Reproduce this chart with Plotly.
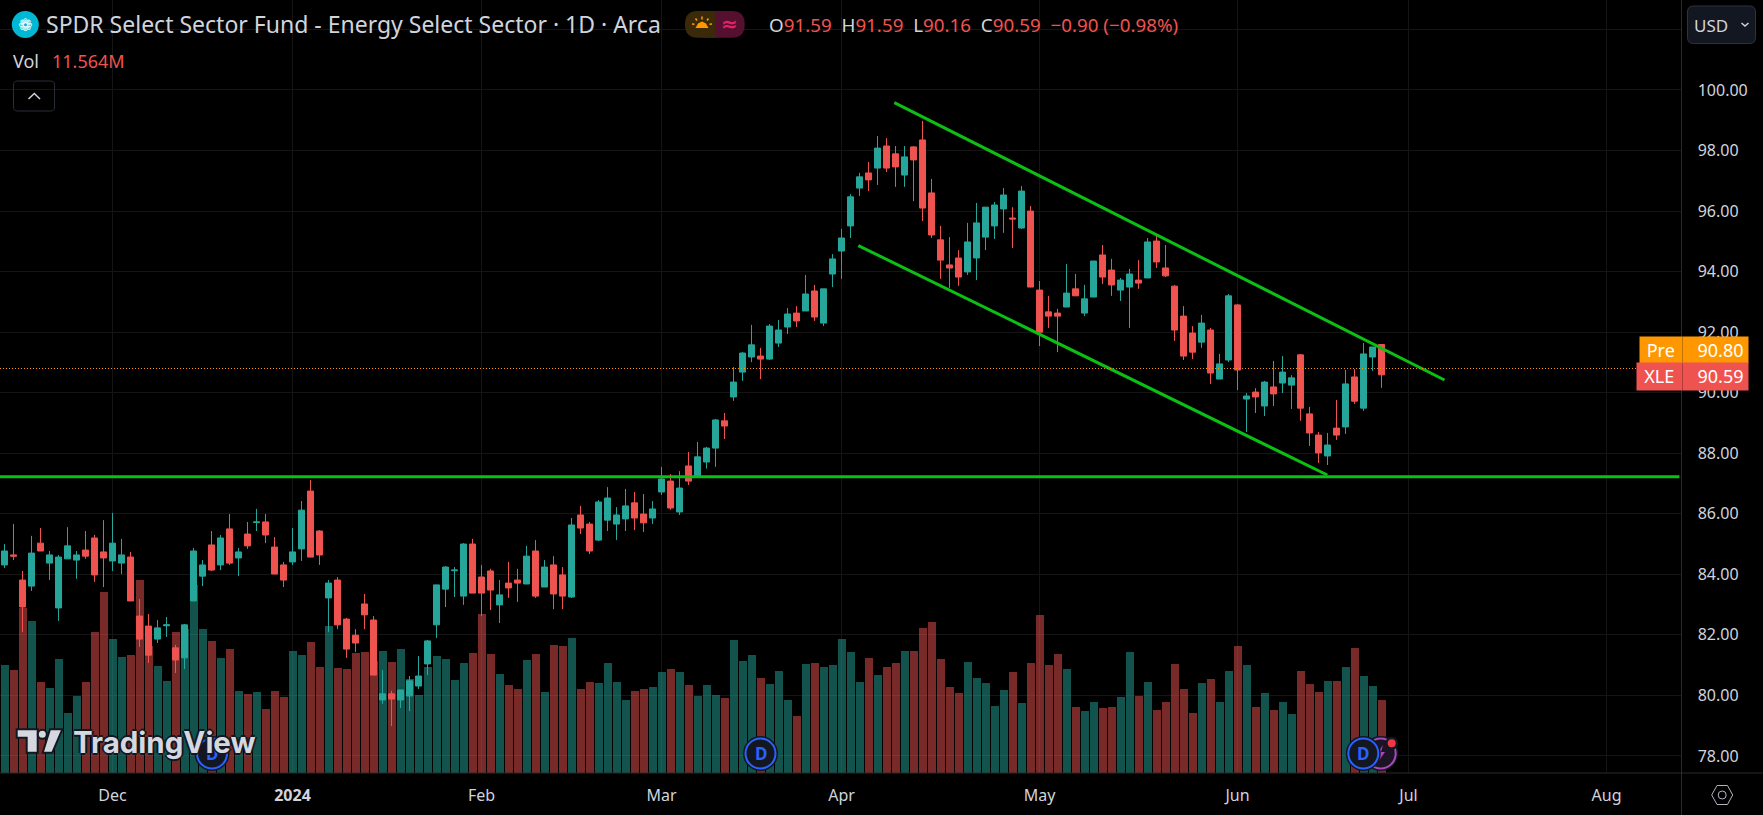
"""Daily XLE candlesticks with volume and hand-drawn trend channel, TradingView dark style."""

import plotly.graph_objects as go

W, H = 1763, 815
PLOT_RIGHT, PLOT_BOTTOM = 1681.5, 773

# ── data ────────────────────────────────────────────────────────────
opens = [
    84.31, 84.64, 83.81, 83.61, 85.03, 84.37, 82.89, 84.51, 84.47, 84.80,
    85.20, 84.74, 84.44, 84.37, 84.57, 82.62, 82.29, 81.86, 82.30, 81.57,
    81.24, 83.12, 83.94, 84.97, 84.31, 85.50, 84.54, 85.33, 85.71, 85.73,
    84.90, 84.31, 84.41, 84.84, 86.75, 85.43, 83.22, 83.81, 82.52, 81.99,
    83.02, 82.49, 79.85, 80.05, 79.85, 79.98, 80.31, 81.04, 82.33, 83.51,
    84.12, 83.28, 85.00, 83.91, 84.11, 82.99, 83.71, 83.81, 83.68, 84.77,
    83.58, 84.31, 83.98, 83.25, 85.96, 85.66, 85.13, 85.79, 85.66, 85.83,
    86.36, 85.99, 85.86, 86.72, 87.08, 86.06, 87.58, 87.22, 87.71, 88.17,
    89.07, 89.86, 90.68, 91.18, 91.21, 91.11, 91.64, 92.17, 92.63, 92.70,
    93.36, 92.30, 93.92, 94.68, 95.51, 96.76, 97.26, 97.42, 98.15, 97.89,
    97.19, 98.12, 98.35, 96.60, 95.05, 94.22, 94.45, 93.99, 94.45, 95.14,
    95.51, 96.07, 95.77, 95.44, 96.00, 93.39, 92.67, 92.63, 92.83, 93.43,
    92.63, 93.16, 94.55, 94.05, 93.39, 93.49, 93.72, 93.79, 95.01, 94.12,
    93.52, 92.53, 91.97, 91.67, 92.07, 90.45, 91.08, 92.90, 89.79, 90.02,
    89.56, 90.19, 90.32, 90.25, 91.25, 89.30, 88.60, 87.91, 88.83, 88.87,
    90.52, 89.49, 91.18, 91.59,
]
highs = [
    85.00, 85.66, 84.11, 85.27, 85.53, 84.77, 84.64, 85.56, 84.77, 85.43,
    85.30, 85.79, 86.03, 85.17, 84.74, 83.18, 82.69, 82.49, 82.59, 81.67,
    82.36, 84.87, 84.47, 85.43, 85.30, 85.99, 84.87, 85.73, 86.16, 85.99,
    85.23, 84.41, 85.53, 86.42, 87.12, 85.46, 83.81, 83.91, 82.56, 82.19,
    83.35, 82.62, 80.84, 80.15, 80.18, 80.64, 81.30, 81.83, 83.65, 84.27,
    84.24, 85.03, 85.17, 84.31, 84.18, 83.81, 84.41, 84.18, 84.94, 85.13,
    84.47, 84.60, 84.24, 85.86, 86.26, 85.73, 86.45, 86.88, 86.22, 86.82,
    86.72, 86.65, 86.42, 87.55, 87.31, 87.41, 88.04, 88.37, 88.21, 89.13,
    89.33, 90.85, 91.35, 92.24, 91.48, 92.27, 92.40, 92.80, 92.86, 93.89,
    93.56, 93.43, 94.58, 95.41, 96.56, 97.26, 97.62, 98.48, 98.41, 98.15,
    98.15, 98.15, 98.98, 97.06, 95.51, 95.14, 94.71, 95.61, 96.27, 96.13,
    96.30, 96.76, 96.13, 96.83, 96.17, 93.69, 93.20, 92.77, 94.25, 93.92,
    93.56, 94.35, 94.88, 94.42, 93.79, 94.09, 94.38, 95.11, 95.21, 94.88,
    93.56, 92.86, 92.20, 92.57, 92.14, 91.28, 93.26, 92.93, 89.99, 90.15,
    90.39, 91.05, 91.21, 90.58, 91.28, 89.53, 88.70, 88.67, 89.76, 90.75,
    90.78, 91.64, 91.51, 91.59,
]
lows = [
    84.21, 84.47, 82.09, 83.45, 84.77, 83.81, 82.46, 84.51, 83.85, 84.51,
    83.75, 83.58, 84.11, 84.01, 83.12, 81.60, 81.07, 81.73, 81.93, 80.74,
    80.87, 83.12, 83.61, 84.11, 84.14, 84.31, 83.94, 84.84, 85.43, 85.03,
    84.01, 83.58, 84.31, 84.44, 84.57, 84.31, 82.09, 82.19, 81.24, 81.43,
    82.19, 80.67, 79.72, 78.99, 79.58, 79.48, 80.21, 80.67, 81.90, 82.92,
    83.25, 82.99, 83.38, 82.62, 82.82, 82.39, 83.22, 83.09, 83.68, 83.22,
    83.58, 82.85, 82.85, 83.22, 85.33, 84.67, 85.10, 85.43, 85.13, 85.43,
    85.46, 85.40, 85.66, 86.62, 86.13, 85.96, 86.95, 87.22, 87.49, 87.55,
    88.47, 89.73, 90.39, 91.01, 90.45, 91.08, 91.51, 91.94, 92.17, 92.70,
    92.37, 92.20, 93.49, 93.76, 95.11, 96.50, 96.66, 96.86, 97.29, 96.80,
    96.80, 96.33, 95.67, 95.11, 93.76, 93.46, 93.53, 93.89, 93.72, 94.71,
    95.08, 95.28, 94.78, 95.41, 93.49, 91.54, 92.14, 91.34, 92.83, 93.20,
    92.53, 93.16, 93.59, 93.20, 93.03, 92.14, 93.43, 93.79, 94.12, 93.82,
    91.71, 91.08, 91.11, 91.48, 90.29, 90.45, 91.01, 90.09, 88.70, 89.33,
    89.23, 89.56, 89.99, 89.46, 89.07, 88.24, 87.68, 87.61, 88.44, 88.64,
    89.63, 89.40, 90.72, 90.16,
]
closes = [
    84.77, 84.60, 82.92, 84.70, 84.77, 84.64, 84.57, 84.94, 84.64, 84.60,
    83.98, 84.54, 85.03, 84.64, 83.12, 81.86, 81.33, 82.23, 82.33, 81.17,
    82.33, 84.77, 84.31, 84.14, 85.20, 84.37, 84.74, 84.94, 85.73, 85.30,
    84.01, 83.81, 84.74, 86.12, 84.57, 84.64, 83.71, 82.33, 81.53, 81.73,
    82.66, 80.67, 80.05, 79.88, 80.18, 80.48, 80.64, 81.80, 83.65, 84.24,
    84.14, 85.00, 83.38, 83.38, 83.48, 83.32, 83.55, 83.71, 84.60, 83.28,
    84.24, 83.35, 83.28, 85.63, 85.53, 84.77, 86.39, 86.52, 85.96, 86.26,
    85.86, 85.70, 86.16, 87.15, 86.19, 86.85, 87.08, 87.88, 88.17, 89.10,
    88.90, 90.35, 91.31, 91.58, 91.11, 92.20, 92.07, 92.60, 92.37, 93.26,
    92.50, 93.43, 94.42, 95.11, 96.47, 97.13, 97.03, 98.08, 97.42, 97.46,
    97.79, 97.69, 96.10, 95.21, 94.38, 94.12, 93.82, 94.98, 95.61, 96.13,
    96.20, 96.53, 95.74, 96.66, 93.49, 92.00, 92.53, 92.53, 93.29, 93.20,
    93.10, 94.35, 93.82, 93.56, 93.72, 93.92, 93.62, 94.98, 94.32, 93.86,
    92.07, 91.21, 91.34, 92.30, 90.65, 90.95, 93.20, 90.75, 89.89, 89.86,
    90.35, 89.96, 90.68, 90.49, 89.49, 88.67, 88.01, 88.27, 88.60, 90.29,
    89.72, 91.28, 91.51, 90.59,
]
volumes = [  # millions of shares
    17.17, 16.38, 26.20, 24.14, 14.47, 13.52, 18.12, 9.56, 12.26, 14.47,
    22.40, 28.74, 21.29, 18.44, 18.75, 30.64, 20.18, 17.01, 14.63, 22.40,
    22.87, 29.85, 22.87, 20.97, 18.28, 19.70, 13.05, 12.57, 12.89, 10.20,
    13.05, 12.10, 19.39, 18.75, 20.81, 16.85, 23.35, 16.69, 16.53, 19.07,
    19.23, 17.80, 19.39, 17.64, 19.70, 14.95, 12.41, 16.85, 18.59, 18.12,
    14.79, 17.49, 19.07, 25.25, 18.91, 15.74, 14.00, 13.37, 17.96, 18.91,
    12.89, 20.34, 20.18, 21.45, 13.37, 14.47, 14.32, 17.49, 14.47, 11.62,
    13.05, 13.37, 13.68, 16.06, 16.48, 16.01, 13.95, 12.20, 13.95, 12.36,
    11.89, 21.08, 17.75, 18.70, 15.06, 14.10, 16.16, 11.57, 9.03, 17.27,
    17.43, 16.80, 17.12, 21.24, 19.18, 14.42, 18.22, 15.53, 16.80, 17.43,
    19.33, 19.33, 22.98, 23.93, 18.07, 13.63, 12.68, 17.59, 15.06, 14.26,
    10.62, 13.15, 16.01, 11.09, 17.43, 25.04, 17.12, 18.86, 16.48, 10.46,
    9.83, 11.25, 10.30, 10.46, 12.04, 19.18, 12.20, 14.42, 9.98, 11.25,
    17.27, 13.31, 9.51, 14.26, 14.90, 11.25, 16.16, 20.13, 17.12, 10.46,
    12.68, 9.98, 11.25, 9.35, 16.16, 14.10, 12.84, 14.58, 14.58, 16.80,
    19.81, 15.37, 13.79, 11.564,
]

month_positions = [12, 32, 53, 73, 93, 115, 137, 156, 178]
month_labels = ["Dec", "<b>2024</b>", "Feb", "Mar", "Apr", "May", "Jun", "Jul", "Aug"]
price_ticks = [78, 80, 82, 84, 86, 88, 90, 92, 94, 96, 98, 100, 102]
price_labels = [f"{p:.2f}" for p in price_ticks[:-1]] + [""]

support_x, support_y = [-0.5, 186.1], [87.22, 87.22]
channel_top_x, channel_top_y = [98.87, 160.0], [99.58, 90.42]
channel_low_x, channel_low_y = [94.87, 146.98], [94.86, 87.28]
premarket_price = 90.80

TEAL, RED = "#26a69a", "#ef5350"
TEAL_VOL, RED_VOL = "rgba(38,166,154,0.5)", "rgba(239,83,80,0.5)"
GREEN = "#0cbf14"
GRID, EDGE = "#151515", "#2a2a2a"
TEXT = "#d1d4dc"
FONT = "Noto Sans"

x = list(range(len(closes)))
vol_colors = [TEAL_VOL if c >= o else RED_VOL for o, c in zip(opens, closes)]


# pixel -> paper helpers for the page furniture
def px(v):
    return v / W


def py(v):
    return 1 - v / H


def path(points, close=False):
    cmds = [f"{'M' if i == 0 else 'L'} {px(a):.5f} {py(b):.5f}" for i, (a, b) in enumerate(points)]
    return " ".join(cmds) + (" Z" if close else "")


def round_rect(x0, y0, x1, y1, r):
    return (
        f"M {px(x0 + r):.5f} {py(y0):.5f} L {px(x1 - r):.5f} {py(y0):.5f} "
        f"Q {px(x1):.5f} {py(y0):.5f} {px(x1):.5f} {py(y0 + r):.5f} L {px(x1):.5f} {py(y1 - r):.5f} "
        f"Q {px(x1):.5f} {py(y1):.5f} {px(x1 - r):.5f} {py(y1):.5f} L {px(x0 + r):.5f} {py(y1):.5f} "
        f"Q {px(x0):.5f} {py(y1):.5f} {px(x0):.5f} {py(y1 - r):.5f} L {px(x0):.5f} {py(y0 + r):.5f} "
        f"Q {px(x0):.5f} {py(y0):.5f} {px(x0 + r):.5f} {py(y0):.5f} Z"
    )


shapes = []
annotations = []


def add_path(d, fill=None, color=None, width=1):
    shapes.append(dict(
        type="path", xref="paper", yref="paper", path=d,
        fillcolor=fill or "rgba(0,0,0,0)",
        line=dict(color=color or "rgba(0,0,0,0)", width=width if color else 0),
    ))


def add_circle(cx, cy, r, fill=None, color=None, width=1):
    shapes.append(dict(
        type="circle", xref="paper", yref="paper",
        x0=px(cx - r), x1=px(cx + r), y0=py(cy + r), y1=py(cy - r),
        fillcolor=fill or "rgba(0,0,0,0)",
        line=dict(color=color or "rgba(0,0,0,0)", width=width if color else 0),
    ))


def add_text(x_px, y_px, text, size, color=TEXT, anchor="left", **kw):
    font = dict(family=kw.pop("family", FONT), size=size, color=color)
    font.update(kw.pop("font", {}))
    annotations.append(dict(
        xref="paper", yref="paper", x=px(x_px), y=py(y_px), text=text,
        showarrow=False, xanchor=anchor, yanchor="middle", font=font, **kw,
    ))


def add_badge(cx, cy):
    add_circle(cx, cy, 17.5, fill="#131722")
    add_circle(cx, cy, 15, fill="#131722", color="#2962ff", width=2)
    add_text(cx, cy, "<b>D</b>", 17, color="#2962ff", anchor="center")


fig = go.Figure()
fig.add_trace(go.Bar(
    x=x, y=volumes, width=8 / 9, marker=dict(color=vol_colors, line_width=0),
    hoverinfo="skip", yaxis="y",
))
fig.add_trace(go.Candlestick(
    x=x, open=opens, high=highs, low=lows, close=closes, yaxis="y2",
    increasing=dict(line=dict(color=TEAL, width=1), fillcolor=TEAL),
    decreasing=dict(line=dict(color=RED, width=1), fillcolor=RED),
    whiskerwidth=0,
))
for lx, ly in ((support_x, support_y), (channel_top_x, channel_top_y), (channel_low_x, channel_low_y)):
    fig.add_trace(go.Scatter(
        x=lx, y=ly, mode="lines", yaxis="y2", hoverinfo="skip",
        line=dict(color=GREEN, width=3),
    ))

# pre-market price line
shapes.append(dict(
    type="line", xref="paper", yref="y2", x0=0, x1=px(1636), y0=premarket_price, y1=premarket_price,
    line=dict(color="#ff9800", width=1, dash="1px,2px"),
))

# frame lines
shapes.append(dict(type="line", xref="paper", yref="paper", x0=0, x1=1, y0=py(PLOT_BOTTOM), y1=py(PLOT_BOTTOM),
                   line=dict(color=EDGE, width=1)))
shapes.append(dict(type="line", xref="paper", yref="paper", x0=px(PLOT_RIGHT), x1=px(PLOT_RIGHT), y0=0, y1=1,
                   line=dict(color=EDGE, width=1)))

# header
add_circle(25.3, 24.5, 13.5, fill="#00b8d4")
add_text(25.3, 24.5, "❁", 17, color="#ffffff", anchor="center", family="DejaVu Sans")
add_text(44, 24, "SPDR Select Sector Fund - Energy Select Sector · 1D · Arca", 23)
add_text(11, 61, "Vol", 18)
add_text(49.5, 61, "11.564M", 18, color=RED)
add_path(round_rect(13.5, 81, 54.5, 111, 4), color="#2a2e39")
add_path(path([(28.5, 99), (34.3, 93.5), (40, 99)]), color=TEXT, width=1.5)

# session pill
add_path(round_rect(685, 11, 727, 37.7, 13), fill="#3b2a0a")
add_path(round_rect(703, 11, 744.7, 37.7, 13), fill="#54102e")
add_path(f"M {px(703):.5f} {py(11):.5f} L {px(715.5):.5f} {py(11):.5f} L {px(715.5):.5f} {py(37.7):.5f} "
         f"L {px(703):.5f} {py(37.7):.5f} Z", fill="#3b2a0a")
add_path(path([(695.5, 28), (698, 23.5), (702, 21.5), (706, 23.5), (708.5, 28)], close=True), fill="#ff9800")
for ray in ([(702, 16.5), (702, 19.5)], [(695.5, 18.5), (697, 20.5)], [(708.5, 18.5), (707, 20.5)],
            [(692, 24), (694.5, 24.3)], [(712, 24), (709.5, 24.3)]):
    add_path(path(ray), color="#ff9800", width=1.5)
add_text(729.5, 24, "<b>≈</b>", 20, color="#e91e63", anchor="center", family="DejaVu Sans")

# OHLC readout
num = f'<span style="color:{RED}">%s</span>'
add_text(767, 25, "O" + num % "91.59" + "  H" + num % "91.59" + "  L" + num % "90.16" + "  C" + num % "90.59"
         + "  " + num % "−0.90 (−0.98%)", 18.8)

# currency button
add_path(round_rect(1687.5, 6, 1755.5, 43.5, 6), fill="#131722", color="#2f3340")
add_text(1692, 25, "USD", 17)
add_path(path([(1741.5, 23), (1745, 26), (1748.5, 23)]), color=TEXT, width=1.5)

# settings hexagon
add_path(path([(1711.7, 795), (1717, 785.5), (1727.5, 785.5), (1732.7, 795), (1727.5, 804.5), (1717, 804.5)],
              close=True), color="#b2b5be")
add_circle(1722.2, 795, 4, color="#b2b5be")

# event badges, the earliest one sits behind the logo
add_badge(212, 753.5)
add_badge(760.5, 753.5)
add_circle(1380.7, 753.5, 17.5, fill="#131722")
add_circle(1380.7, 753.5, 15, fill="#1c1424", color="#ab47bc", width=2)
add_path(path([(1383, 745), (1376, 755), (1380, 755), (1378, 762), (1385, 752), (1381, 752)], close=True),
         fill="#ab47bc")
add_badge(1363.3, 753.5)
add_circle(1391.7, 743.3, 6.5, fill="#131722")
add_circle(1391.7, 743.3, 4, fill="#f23645")

# logo
LOGO = "#d6d8e0"
add_path(path([(16.7, 729.3), (37.7, 729.3), (37.7, 752.7), (26.7, 752.7), (26.7, 737.7), (16.7, 737.7)], close=True),
         fill=LOGO, color="#131722", width=2)
add_circle(42.3, 734.3, 4.5, fill=LOGO, color="#131722", width=2)
add_path(path([(50, 729.3), (62.3, 729.3), (52.3, 752.7), (42.7, 752.7)], close=True),
         fill=LOGO, color="#131722", width=2)
add_text(71, 741.5, "TradingView", 29.5, color=LOGO, family="Inter",
         font=dict(weight=700, shadow="2px 0 0 #131722, -2px 0 0 #131722, 0 2px 0 #131722, 0 -2px 0 #131722"))


# price tags sit above the axis labels, so they are annotations with a fill
def add_tag(x0, x1, y0, y1, text, fill, align):
    annotations.append(dict(
        xref="paper", yref="paper", x=px(x0), y=py(y0), xanchor="left", yanchor="top",
        width=x1 - x0, height=y1 - y0, text=text, showarrow=False, bgcolor=fill, align=align,
        borderpad=0, valign="middle", font=dict(family=FONT, size=18, color="#ffffff"),
    ))


add_tag(1639, 1680.5, 336, 362.3, "Pre", "#ff9800", "center")
add_tag(1681.5, 1746.7, 336, 362.3, "90.80\u00a0", "#ff9800", "right")
add_tag(1636, 1680.5, 362.3, 389, "XLE", RED, "center")
add_tag(1681.5, 1746.7, 362.3, 389, "90.59\u00a0", RED, "right")

fig.update_layout(
    width=W, height=H, margin=dict(l=0, r=0, t=0, b=0),
    paper_bgcolor="#000000", plot_bgcolor="#000000",
    showlegend=False, hovermode=False, bargap=0,
    boxgap=0.33, boxgroupgap=0,  # candle body about 6px + 1px outline on a 9px step
    shapes=shapes, annotations=annotations,
    font=dict(family=FONT, color=TEXT),
    xaxis=dict(
        domain=[0, PLOT_RIGHT / W], range=[-0.5, (PLOT_RIGHT - 4.5) / 9],
        tickmode="array", tickvals=month_positions, ticktext=month_labels,
        showgrid=True, gridcolor=GRID, gridwidth=1, zeroline=False, showline=False,
        ticks="outside", ticklen=8, tickcolor="rgba(0,0,0,0)",
        tickfont=dict(family=FONT, size=16, color=TEXT),
        rangeslider=dict(visible=False),
    ),
    yaxis=dict(
        domain=[1 - PLOT_BOTTOM / H, 1], range=[0, PLOT_BOTTOM / 6.31],
        visible=False, showgrid=False, zeroline=False,
    ),
    yaxis2=dict(
        domain=[1 - PLOT_BOTTOM / H, 1], range=[77.436, 102.973],
        overlaying="y", side="right", anchor="x",
        tickmode="array", tickvals=price_ticks, ticktext=price_labels,
        showgrid=True, gridcolor=GRID, gridwidth=1, zeroline=False, showline=False,
        ticks="outside", ticklen=12, tickcolor="rgba(0,0,0,0)",
        tickfont=dict(family=FONT, size=16, color=TEXT),
    ),
)

fig.write_html(
    "out.html",
    config={"displayModeBar": False},
    post_script="document.body.style.margin='0';document.body.style.background='#000';",
)
